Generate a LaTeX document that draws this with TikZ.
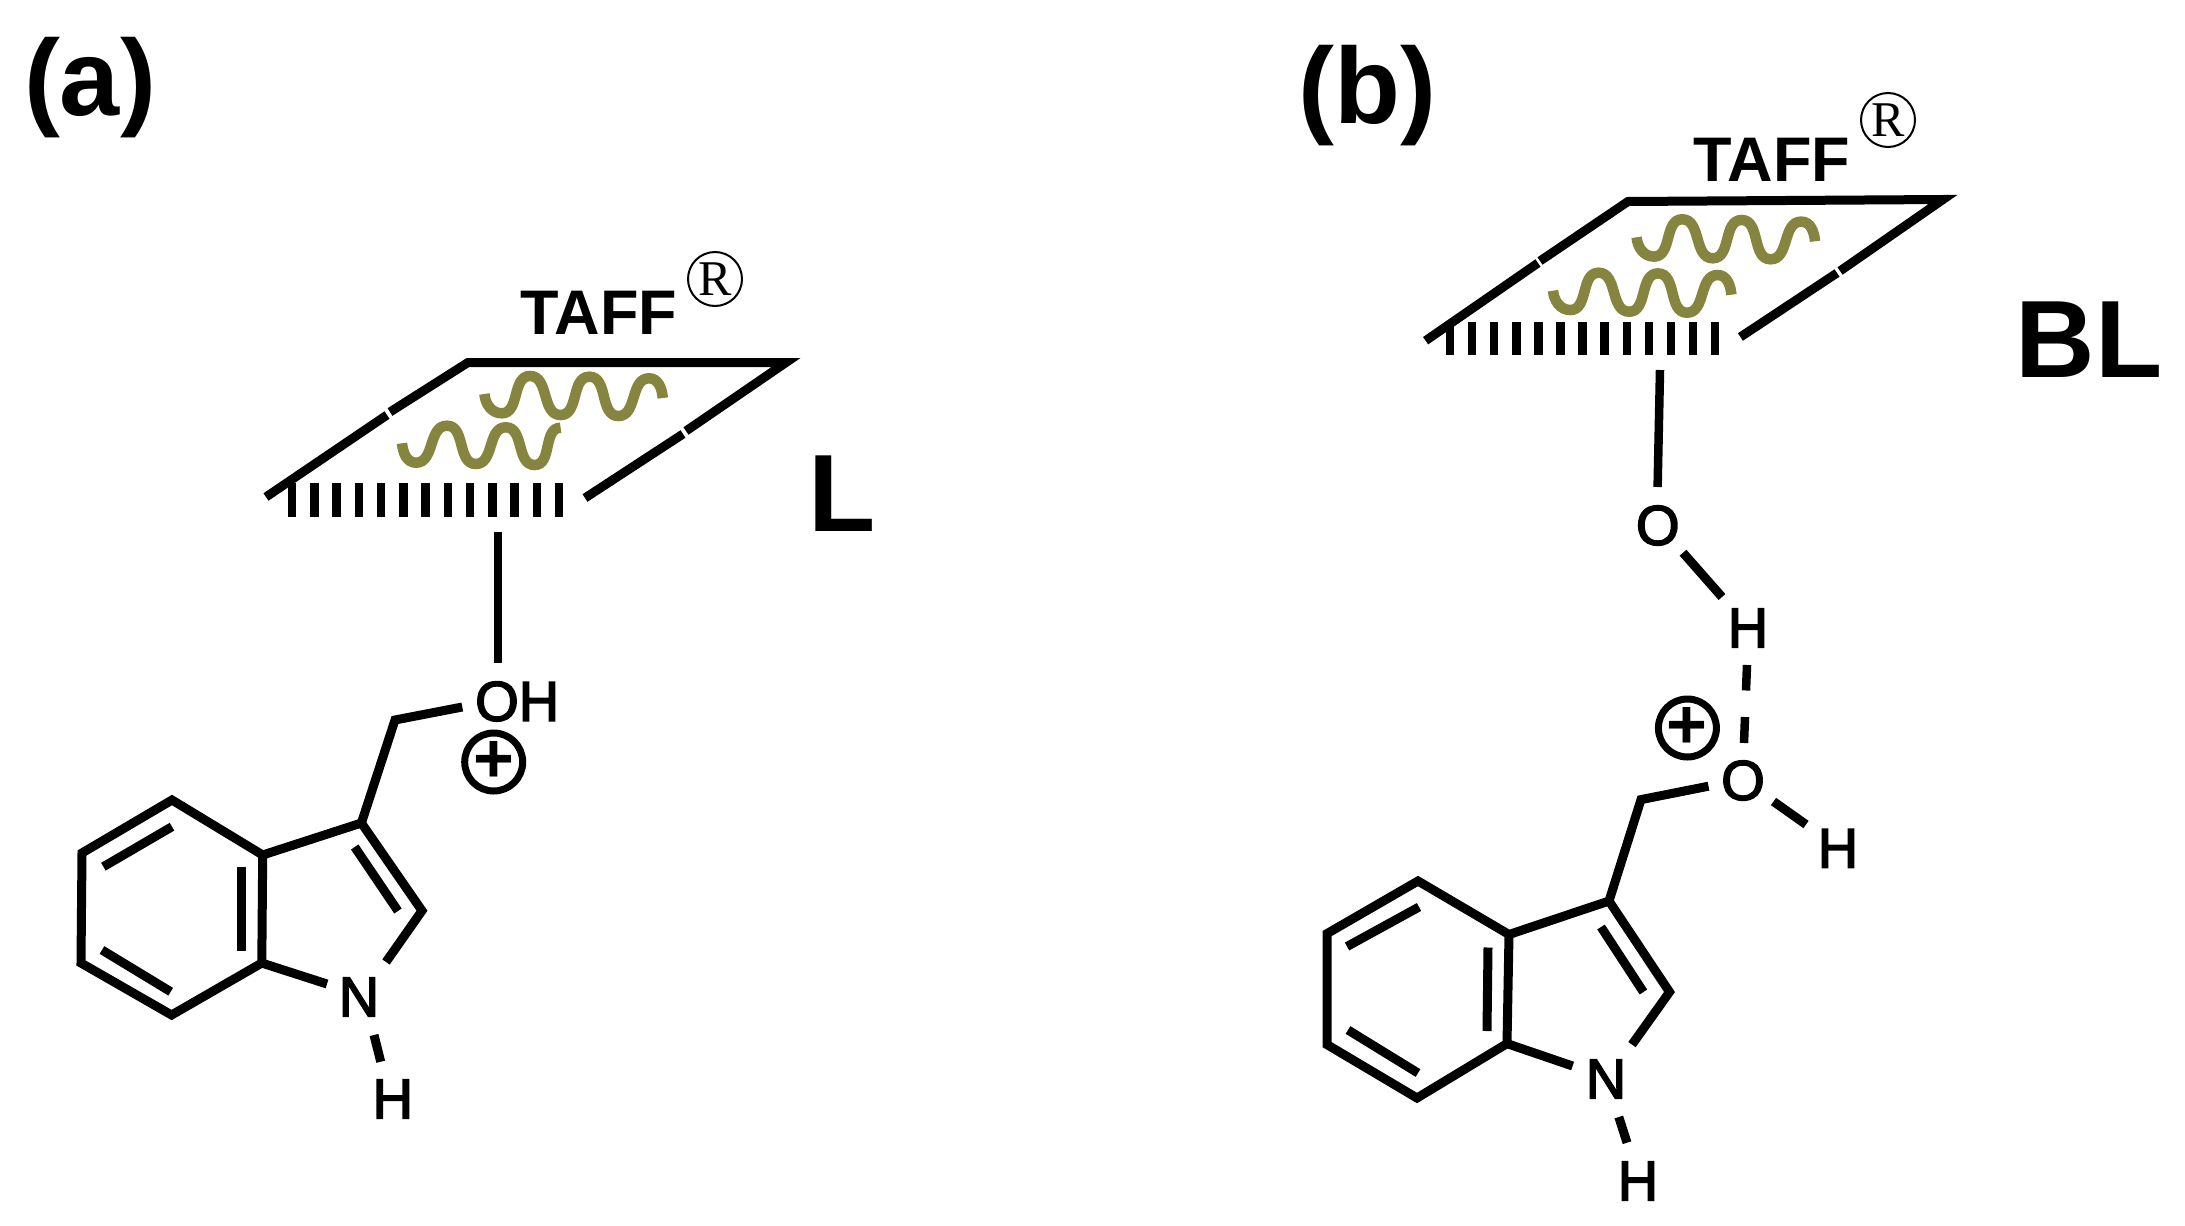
\documentclass[tikz,border=0pt]{standalone}
\usepackage{fontspec}
\setmainfont{Liberation Sans}
\newfontfamily\regfont{Liberation Serif}
\definecolor{tail}{HTML}{85853F}
\newcommand{\heavy}[1]{\special{pdf:code 2 Tr 1.6 w}#1\special{pdf:code 0 Tr}}
\tikzset{
  bond/.style={line width=9pt},
  hashmark/.style={line width=8.5pt},
  tailw/.style={line width=10.5pt,color=tail,looseness=1},
  atom/.style={inner sep=0pt,font=\fontsize{56}{56}\selectfont},
  taff/.style={inner sep=0pt,font=\bfseries\fontsize{63}{63}\selectfont},
  regm/.style={circle,draw,line width=2pt,minimum size=54pt,inner sep=0pt,font=\regfont\fontsize{50}{50}\selectfont},
  charge/.style={circle,draw,line width=7pt,minimum size=58pt,inner sep=0pt,font=\bfseries\fontsize{70}{70}\selectfont},
  panel/.style={inner sep=0pt,font=\bfseries\fontsize{108}{108}\selectfont},
  big/.style={inner sep=0pt,font=\bfseries\fontsize{110}{110}\selectfont}
}
\newcommand{\tailthree}[2]{%
  \draw[tailw] (#1,#2) to[out=-85,in=180,looseness=1] ++(17.4,19.3) to[out=0,in=180] ++(28.2,-37.3)
    to[out=0,in=180] ++(30.6,39) to[out=0,in=180] ++(28.8,-38.3) to[out=0,in=180] ++(29,39.3)
    to[out=0,in=180] ++(30.6,-37.7) to[out=0,in=95,looseness=1] ++(13.8,19.7);}
\begin{document}
\begin{tikzpicture}[x=1pt,y=-1pt]
\useasboundingbox (2,0) rectangle (2187,1226);
\fill[white] (2,0) rectangle (2187,1226);

% ---------- panel (a)
\node[panel] (lab-a) at (92,88) {(a)};
\node[taff] (taff-a) at (601,313) {TAFF};
\node[regm] (reg-a) at (717,279) {R};
\node[big] (big-a) at (844,494) {L};

\coordinate (a-bl) at (268,497);
\coordinate (a-g1) at (389,415);
\coordinate (a-g2) at (392,412);
\coordinate (a-tl) at (470,362.5);
\coordinate (a-tr) at (788,362.5);
\coordinate (a-g3) at (688,431);
\coordinate (a-g4) at (685,434);
\coordinate (a-br) at (587,498);
\draw[bond] (a-bl) -- (a-g1);
\draw[bond] (a-g2) -- (a-tl) -- (a-tr) -- (a-g3);
\draw[bond] (a-g4) -- (a-br);
\foreach \i in {0,...,12} \draw[hashmark] ({294+22.25*\i},483) -- ++(0,34);
\tailthree{486.4}{394}
\draw[tailw] (404,443.3) to[out=-85,in=180,looseness=1] ++(14,19.4) to[out=0,in=180] ++(31,-37)
   to[out=0,in=180] ++(28.8,38.3) to[out=0,in=180] ++(30,-36.7) to[out=0,in=180] ++(28.8,37.7)
   to[out=0,in=180,looseness=1] ++(26,-37.3);

\node[atom,anchor=base west] (a-oh) at (477,720.7) {\heavy{OH}};
\coordinate (a-st) at (500,532);
\coordinate (a-sb) at (500,663);
\draw[hashmark] (a-st) -- (a-sb);
\node[charge] (a-plus) at (495.7,762) {+};

\coordinate (a1) at (174,800);
\coordinate (a2) at (84,853);
\coordinate (a3) at (83,963);
\coordinate (a4) at (173.6,1015);
\coordinate (a5) at (263.8,963);
\coordinate (a6) at (264.7,855);
\coordinate (a7) at (363.4,823);
\coordinate (a8) at (424,910.7);
\coordinate (a9) at (388,962);
\coordinate (a10) at (329,984);
\coordinate (a11) at (397,720);
\coordinate (a12) at (464.3,707);
\draw[bond] (a6) -- (a1) -- (a2) -- (a3) -- (a4) -- (a5) -- (a6) -- (a7) -- (a8) -- (a9);
\draw[bond] (a5) -- (a10);
\draw[bond] (a7) -- (a11) -- (a12);
\coordinate (a13) at (105.4,866.7);
\coordinate (a14) at (174,826.7);
\coordinate (a15) at (104,950);
\coordinate (a16) at (172.7,991.7);
\coordinate (a17) at (243.6,866.7);
\coordinate (a18) at (243.6,950.7);
\coordinate (a19) at (356.7,847);
\coordinate (a20) at (400,911);
\draw[bond] (a13) -- (a14);
\draw[bond] (a15) -- (a16);
\draw[bond] (a17) -- (a18);
\draw[bond] (a19) -- (a20);
\node[atom] (a-n) at (361,997) {\heavy{N}};
\node[atom] (a-h) at (394.8,1099) {\heavy{H}};
\coordinate (a21) at (376,1035);
\coordinate (a22) at (382.7,1061.7);
\draw[bond] (a21) -- (a22);

% ---------- panel (b)
\node[panel] (lab-b) at (1369,96) {(b)};
\node[taff] (taff-b) at (1774,160) {TAFF};
\node[regm] (reg-b) at (1890,120) {R};
\node[big] (big-b) at (2091,340) {BL};

\coordinate (b-bl) at (1427.6,340.7);
\coordinate (b-g1) at (1540,263);
\coordinate (b-g2) at (1542,261);
\coordinate (b-tl) at (1630,201.5);
\coordinate (b-tr) at (1945,199.5);
\coordinate (b-g3) at (1842,271);
\coordinate (b-g4) at (1839,273);
\coordinate (b-br) at (1742.4,337);
\draw[bond] (b-bl) -- (b-g1);
\draw[bond] (b-g2) -- (b-tl) -- (b-tr) -- (b-g3);
\draw[bond] (b-g4) -- (b-br);
\foreach \i in {0,...,12} \draw[hashmark] ({1452+22.1*\i},322) -- ++(0,33);
\tailthree{1638.6}{237.3}
\tailthree{1555}{290.7}

\coordinate (b-st) at (1662,370);
\coordinate (b-sb) at (1659.6,487);
\draw[hashmark] (b-st) -- (b-sb);
\node[atom] (b-o1) at (1659.8,525.5) {\heavy{O}};
\node[atom] (b-h1) at (1750,628) {\heavy{H}};
\coordinate (b-oh1) at (1685,552.7);
\coordinate (b-oh2) at (1724,597);
\draw[bond] (b-oh1) -- (b-oh2);
\coordinate (b-d1) at (1749,665);
\coordinate (b-d2) at (1748,690.5);
\coordinate (b-d3) at (1747,717);
\coordinate (b-d4) at (1746,743);
\draw[hashmark] (b-d1) -- (b-d2);
\draw[hashmark] (b-d3) -- (b-d4);
\node[atom] (b-o2) at (1745,780.5) {\heavy{O}};
\coordinate (b-oh3) at (1775.5,801.5);
\coordinate (b-oh4) at (1808,824.5);
\draw[bond] (b-oh3) -- (b-oh4);
\node[atom] (b-h2) at (1840,848.4) {\heavy{H}};
\node[charge] (b-plus) at (1689.4,728) {+};

\coordinate (b1) at (1420,881);
\coordinate (b2) at (1329,933.6);
\coordinate (b3) at (1329,1044.6);
\coordinate (b4) at (1419,1098);
\coordinate (b5) at (1509,1043.6);
\coordinate (b6) at (1511,934.5);
\coordinate (b7) at (1611,901);
\coordinate (b8) at (1671.5,992);
\coordinate (b9) at (1634,1044.6);
\coordinate (b10) at (1574.6,1066);
\coordinate (b11) at (1643,799.6);
\coordinate (b12) at (1710.5,786.2);
\draw[bond] (b6) -- (b1) -- (b2) -- (b3) -- (b4) -- (b5) -- (b6) -- (b7) -- (b8) -- (b9);
\draw[bond] (b5) -- (b10);
\draw[bond] (b7) -- (b11) -- (b12);
\coordinate (b13) at (1349,946.5);
\coordinate (b14) at (1421,907);
\coordinate (b15) at (1350,1030);
\coordinate (b16) at (1420,1073);
\coordinate (b17) at (1490,947.5);
\coordinate (b18) at (1489,1031);
\coordinate (b19) at (1603,927);
\coordinate (b20) at (1645.4,992);
\draw[bond] (b13) -- (b14);
\draw[bond] (b15) -- (b16);
\draw[bond] (b17) -- (b18);
\draw[bond] (b19) -- (b20);
\node[atom] (b-n) at (1608,1079) {\heavy{N}};
\node[atom] (b-h3) at (1640,1181) {\heavy{H}};
\coordinate (b21) at (1620.8,1117);
\coordinate (b22) at (1629,1142.7);
\draw[bond] (b21) -- (b22);
\end{tikzpicture}
\end{document}
